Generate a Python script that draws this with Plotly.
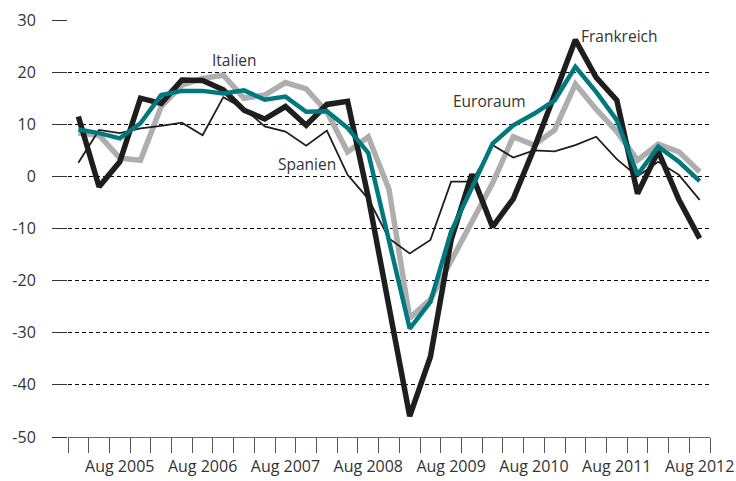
import plotly.graph_objects as go

months = ["Feb", "Mai", "Aug", "Nov"]
quarters = [f"{m} {y}" for y in range(2005, 2013) for m in months][:31]
label_idx = [i for i, q in enumerate(quarters) if q.startswith("Aug")]
label_text = [quarters[i] for i in label_idx]

frankreich = [11.5, -2.0, 2.8, 15.0, 14.0, 18.5, 18.4, 16.6, 12.7, 11.0, 13.4, 9.8, 13.8, 14.4,
              -4.0, -25.0, -46.0, -34.6, -12.2, 0.4, -9.7, -4.3, 5.3, 15.7, 26.2, 19.0, 14.6,
              -3.3, 4.8, -4.5, -11.9]
euroraum = [9.0, 8.3, 7.3, 10.2, 15.6, 16.4, 16.4, 15.9, 16.5, 14.7, 15.3, 12.4, 12.5, 9.3,
            4.5, -12.4, -29.2, -24.1, -10.6, -2.2, 6.3, 9.8, 12.0, 14.6, 21.0, 16.2, 10.8,
            0.3, 5.7, 2.8, -0.9]
italien = [8.3, 7.9, 3.5, 3.1, 13.4, 17.5, 18.8, 19.4, 15.0, 15.6, 18.0, 16.8, 12.4, 4.7,
           7.6, -2.5, -27.2, -23.6, -16.2, -8.5, -1.3, 7.6, 6.0, 8.9, 17.7, 12.9, 8.6,
           3.1, 6.2, 4.7, 0.9]
spanien = [2.6, 8.9, 8.3, 9.2, 9.7, 10.3, 7.9, 15.2, 13.0, 9.6, 8.6, 5.9, 8.8, 0.3,
           -4.3, -11.9, -14.8, -12.2, -1.0, -1.0, 6.0, 3.6, 5.0, 4.8, 6.0, 7.6, 3.3,
           0.0, 2.8, 0.3, -4.5]

y_ticks = [-50, -40, -30, -20, -10, 0, 10, 20, 30]
y_tick_text = [str(v) for v in y_ticks]

# label: (text, x index, y value)
labels = [("Italien", 7.55, 22.4), ("Spanien", 11.05, 2.4),
          ("Euroraum", 19.85, 14.4), ("Frankreich", 26.1, 27.0)]

FONT = "Open Sans"
TXT = "#333333"

xs = list(range(len(quarters)))

fig = go.Figure()
fig.add_trace(go.Scatter(x=xs, y=italien, text=quarters, mode="lines", name="Italien",
                         line=dict(color="#aeaeae", width=5.5)))
fig.add_trace(go.Scatter(x=xs, y=spanien, text=quarters, mode="lines", name="Spanien",
                         line=dict(color="#1e1e1e", width=1.8)))
fig.add_trace(go.Scatter(x=xs, y=frankreich, text=quarters, mode="lines", name="Frankreich",
                         line=dict(color="#1e1e1e", width=5.5)))
fig.add_trace(go.Scatter(x=xs, y=euroraum, text=quarters, mode="lines", name="Euroraum",
                         line=dict(color="#00797e", width=4.5)))

for text, xi, yv in labels:
    fig.add_annotation(x=xi, y=yv, xref="x", yref="y", text=text, showarrow=False,
                       xanchor="center", yanchor="middle",
                       font=dict(family=FONT, size=15.5, color=TXT))

fig.update_layout(
    width=736, height=481,
    margin=dict(l=68, r=26, t=20, b=44, autoexpand=False),
    paper_bgcolor="white", plot_bgcolor="white",
    showlegend=False,
    font=dict(family=FONT, size=16, color=TXT),
)
fig.update_xaxes(
    range=[-0.5, len(quarters) - 0.5],
    tickmode="array", tickvals=label_idx, ticktext=label_text,
    tickangle=0, automargin=False, ticklabeloverflow="allow",
    ticks="outside", ticklen=15, tickcolor="rgba(0,0,0,0)", tickwidth=1,
    minor=dict(tickmode="array", tickvals=[i - 0.5 for i in range(len(quarters) + 1)],
               ticks="outside", ticklen=15, tickcolor="#555555", tickwidth=1,
               showgrid=False),
    showgrid=False, zeroline=False, showline=True, linecolor="#666666", linewidth=1,
    tickfont=dict(family=FONT, size=16, color=TXT),
)
fig.update_yaxes(
    range=[-50, 30], tickmode="array", tickvals=y_ticks, ticktext=y_tick_text,
    automargin=False,
    ticks="outside", ticklen=15, tickcolor="#333333", tickwidth=1,
    ticklabelstandoff=13,
    showgrid=True, gridcolor="#000000", gridwidth=1, griddash="4px,3px",
    zeroline=False, showline=False,
    tickfont=dict(family=FONT, size=16, color=TXT),
)

fig.write_html("out.html", config={"displayModeBar": False},
               post_script="document.body.style.margin='0';")
